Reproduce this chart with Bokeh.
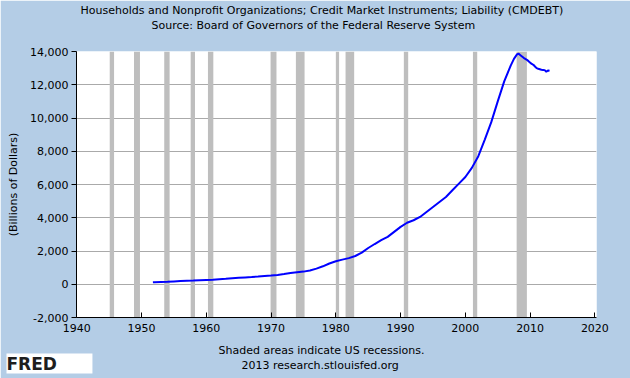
from bokeh.plotting import figure
from bokeh.models import (Range1d, Title, BoxAnnotation, Label, FixedTicker,
                          NumeralTickFormatter, ColumnDataSource)
from bokeh.embed import file_html
from bokeh.resources import INLINE

# ---- data ----
years = [1951.75, 1952, 1953, 1954, 1955, 1956, 1957, 1958, 1959, 1960,
         1961, 1962, 1963, 1964, 1965, 1966, 1967, 1968, 1969, 1970,
         1971, 1972, 1973, 1974, 1975, 1976, 1977, 1978, 1979, 1980,
         1981, 1982, 1983, 1984, 1985, 1986, 1987, 1988, 1989, 1990,
         1991, 1992, 1993, 1994, 1995, 1996, 1997, 1998, 1999, 2000,
         2001, 2002, 2003, 2004, 2005, 2006, 2007, 2007.5,
         2008.0, 2008.25, 2008.5, 2008.75, 2009.0, 2009.25, 2009.5, 2009.75,
         2010.0, 2010.25, 2010.5, 2010.75, 2011.0, 2011.25, 2011.5, 2011.75,
         2012.0, 2012.25, 2012.5, 2012.75, 2013.0]
debt = [120, 125, 140, 150, 170, 190, 205, 220, 240, 260,
        275, 300, 325, 355, 385, 410, 435, 465, 500, 525,
        560, 610, 670, 720, 760, 830, 940, 1080, 1250, 1380,
        1480, 1570, 1700, 1900, 2180, 2420, 2650, 2850, 3150, 3450,
        3700, 3850, 4050, 4350, 4650, 4950, 5250, 5650, 6050, 6450,
        7000, 7700, 8700, 9750, 11000, 12200, 13150, 13560,
        13840, 13860, 13780, 13700, 13620, 13560, 13500, 13420,
        13330, 13250, 13200, 13100, 13000, 12960, 12930, 12900,
        12890, 12880, 12780, 12860, 12840]

rec_start = [1945.08, 1948.83, 1953.5, 1957.58, 1960.25, 1969.92, 1973.83,
             1980.0, 1981.5, 1990.5, 2001.17, 2007.92]
rec_end = [1945.75, 1949.75, 1954.33, 1958.25, 1961.08, 1970.83, 1975.17,
           1980.5, 1982.83, 1991.17, 2001.83, 2009.5]

x_ticks = [1940, 1950, 1960, 1970, 1980, 1990, 2000, 2010, 2020]
y_ticks = [-2000, 0, 2000, 4000, 6000, 8000, 10000, 12000, 14000]

title1 = "Households and Nonprofit Organizations; Credit Market Instruments; Liability (CMDEBT)"
title2 = "Source: Board of Governors of the Federal Reserve System"
foot1 = "Shaded areas indicate US recessions."
foot2 = "2013 research.stlouisfed.org"
ylabel = "(Billions of Dollars)"
logo_text = "FRED"

FONT = "DejaVu Sans"
BG = "#B4CDE6"

p = figure(width=630, height=378, output_backend="svg", toolbar_location=None,
           x_range=Range1d(1939.95, 2020.25), y_range=Range1d(-2000, 14000),
           min_border_left=76, min_border_right=34, min_border_top=51,
           min_border_bottom=61, title=None)
p.background_fill_color = "white"
p.border_fill_color = BG
p.outline_line_color = None

def make_title(txt, offset, standoff=0, size="11px"):
    return Title(text=txt, align="left", text_font=FONT, text_font_size=size,
                 text_font_style="normal", text_color="black",
                 offset=offset, standoff=standoff)

# --- top panels (first added sits closest to the frame) ---
# FRED logo: occupies the panel right above the frame (as spacing) but is
# drawn at the bottom-left corner of the canvas.
logo = Label(x=-70, y=-322, x_units="screen", y_units="screen",
             text=logo_text + "      ",
             text_font=FONT, text_font_size="17px", text_font_style="bold",
             text_color="#1e1e1e", text_align="left", text_baseline="bottom",
             background_fill_color="white", padding=0)
p.add_layout(logo, "above")
p.add_layout(make_title(title2, 75), "above")
p.add_layout(make_title(title1, 4), "above")

# --- bottom panels ---
p.add_layout(make_title(" ", 0, standoff=4, size="1px"), "below")
p.add_layout(make_title(foot1, 142), "below")
p.add_layout(make_title(foot2, 165), "below")

# recessions
for s, e in zip(rec_start, rec_end):
    p.add_layout(BoxAnnotation(left=s, right=e, fill_color="#BEBEBE",
                               fill_alpha=1.0, line_color=None, level="underlay"))

src = ColumnDataSource(dict(x=years, y=debt))
p.line("x", "y", source=src, line_color="#0000FF", line_width=2)

# axes
p.xaxis.ticker = FixedTicker(ticks=x_ticks)
p.yaxis.ticker = FixedTicker(ticks=y_ticks)
p.yaxis.formatter = NumeralTickFormatter(format="0,0")
p.xaxis.formatter = NumeralTickFormatter(format="0")
for ax in (p.xaxis, p.yaxis):
    ax.axis_line_color = "black"
    ax.major_tick_line_color = "black"
    ax.minor_tick_line_color = None
    ax.major_label_text_font = FONT
    ax.major_label_text_font_size = "11px"
    ax.major_label_text_color = "black"
p.xaxis.major_tick_in = 5
p.xaxis.major_tick_out = 0
p.xaxis.major_label_standoff = 6
p.yaxis.major_tick_in = 0
p.yaxis.major_tick_out = 5
p.yaxis.major_label_standoff = 3
p.yaxis.axis_label = ylabel
p.yaxis.axis_label_text_font = FONT
p.yaxis.axis_label_text_font_size = "11px"
p.yaxis.axis_label_text_font_style = "normal"
p.yaxis.axis_label_text_color = "black"
p.yaxis.axis_label_standoff = 7

p.xgrid.grid_line_color = None
p.ygrid.grid_line_color = "#AAAAAA"
p.ygrid.grid_line_width = 1

open("out.html", "w").write(file_html(p, INLINE))
